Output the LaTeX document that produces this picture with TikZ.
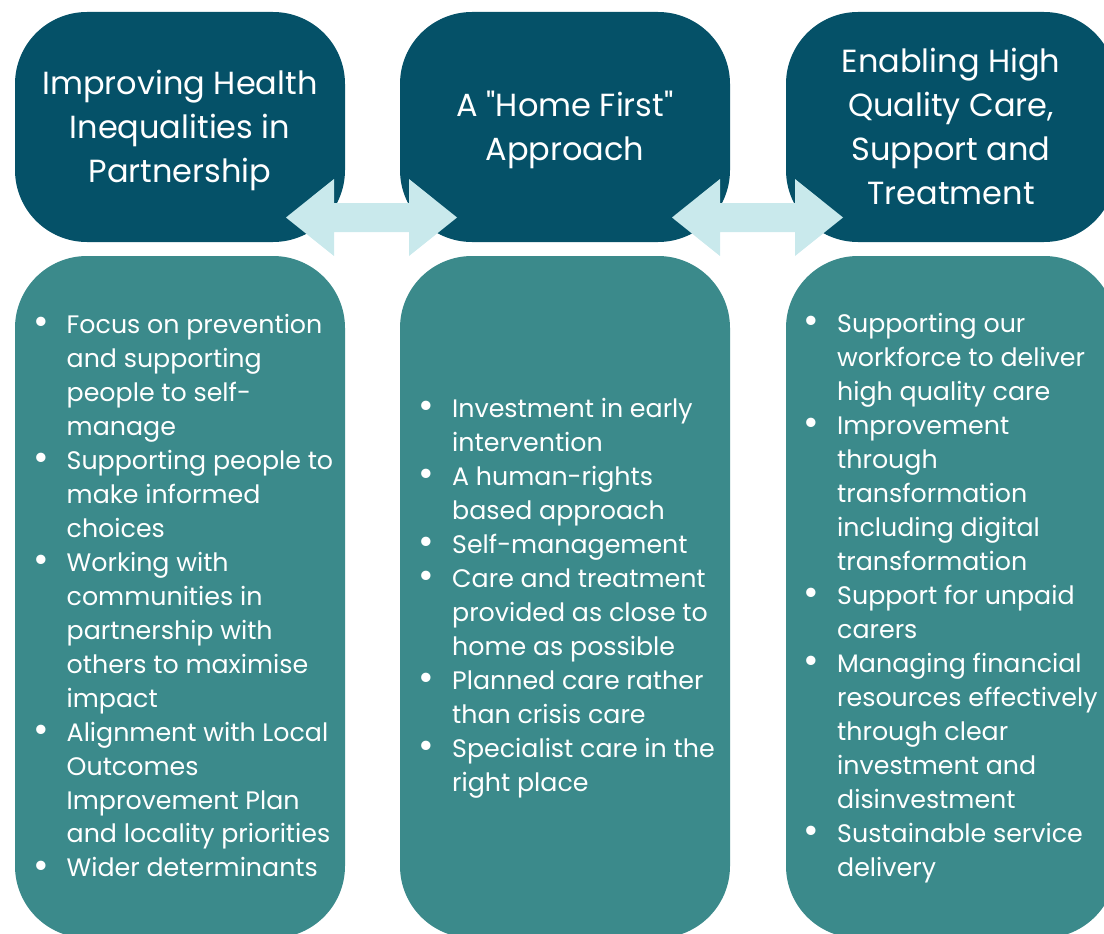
\documentclass[tikz,border=0pt]{standalone}
\usepackage{fontspec}
\setmainfont{Poppins}
% same face without the TeX input mapping, for straight quotes
\newfontfamily\plainpoppins{Poppins}
\usetikzlibrary{calc}
\definecolor{headteal}{RGB}{5,81,104}
\definecolor{panelteal}{RGB}{59,138,139}
\definecolor{linkblue}{RGB}{201,233,236}

% bullet list laid out as a two-column table: bullet, then text
\newenvironment{bulletlist}[1]
  {\begin{tabular}[t]{@{}p{#1}@{}l@{}}}
  {\end{tabular}}
\newcommand{\bul}{\raisebox{-0.06em}{\scalebox{1.5}{\textbullet}} &}
\newcommand{\dq}{{\plainpoppins"}}

% double-headed link between two tips
\newcommand{\linkarrow}[2]{%
  \fill[link] (#1) -- ++(48,-38.5) -- ++(0,24) -- ($(#2)+(-48,-14.5)$)
    -- ++(0,-24) -- (#2) -- ++(-48,38.5) -- ++(0,-24)
    -- ($(#1)+(48,14.5)$) -- ++(0,24) -- cycle;}

\begin{document}
\begin{tikzpicture}[x=1pt,y=-1pt,
  head/.style={fill=headteal, rounded corners=72pt, minimum width=330pt,
    minimum height=230pt, inner sep=0pt},
  title/.style={inner sep=0pt, text=white, align=center,
    font=\fontsize{32}{44}\selectfont},
  panel/.style={fill=panelteal, rounded corners=72pt, minimum width=330pt,
    minimum height=682pt, inner sep=0pt},
  list/.style={anchor=base west, inner sep=0pt, text=white,
    font=\fontsize{25.3}{34}\selectfont},
  link/.style={fill=linkblue}]

\useasboundingbox (0,0) rectangle (1104,934);
\clip (0,0) rectangle (1104,934);

% lower panels
\node[panel] (p1) at (180,597) {};
\node[panel] (p2) at (565,597) {};
\node[panel] (p3) at (951,597) {};

% heading boxes and their titles
\node[head] (h1) at (180,127) {};
\node[head] (h2) at (565,127) {};
\node[head] (h3) at (951,127) {};
\node[title, yshift=-3pt] (h1t) at (h1.center) {Improving Health\\Inequalities in\\Partnership};
\node[title, yshift=-3pt] (h2t) at (h2.center) {A \dq Home First\dq\\Approach};
\node[title, yshift=1pt] (h3t) at (h3.center) {Enabling High\\Quality Care,\\Support and\\Treatment};

% links between headings
\coordinate (l1a) at (286,217.5);
\coordinate (l1b) at (457,217.5);
\coordinate (l2a) at (672,217.5);
\coordinate (l2b) at (843,217.5);
\linkarrow{l1a}{l1b}
\linkarrow{l2a}{l2b}

% lists
\node[list] (t1) at (33,333) {\begin{bulletlist}{33.5pt}
\bul Focus on prevention\\
& and supporting\\
& people to self-\\
& manage\\
\bul Supporting people to\\
& make informed\\
& choices\\
\bul Working with\\
& communities in\\
& partnership with\\
& others to maximise\\
& impact\\
\bul Alignment with Local\\
& Outcomes\\
& Improvement Plan\\
& and locality priorities\\
\bul Wider determinants
\end{bulletlist}};

\node[list] (t2) at (418,417) {\begin{bulletlist}{34pt}
\bul Investment in early\\
& intervention\\
\bul A human-rights\\
& based approach\\
\bul Self-management\\
\bul Care and treatment\\
& provided as close to\\
& home as possible\\
\bul Planned care rather\\
& than crisis care\\
\bul Specialist care in the\\
& right place
\end{bulletlist}};

\node[list] (t3) at (803,332) {\begin{bulletlist}{34pt}
\bul Supporting our\\
& workforce to deliver\\
& high quality care\\
\bul Improvement\\
& through\\
& transformation\\
& including digital\\
& transformation\\
\bul Support for unpaid\\
& carers\\
\bul Managing financial\\
& resources effectively\\
& through clear\\
& investment and\\
& disinvestment\\
\bul Sustainable service\\
& delivery
\end{bulletlist}};
\end{tikzpicture}
\end{document}
